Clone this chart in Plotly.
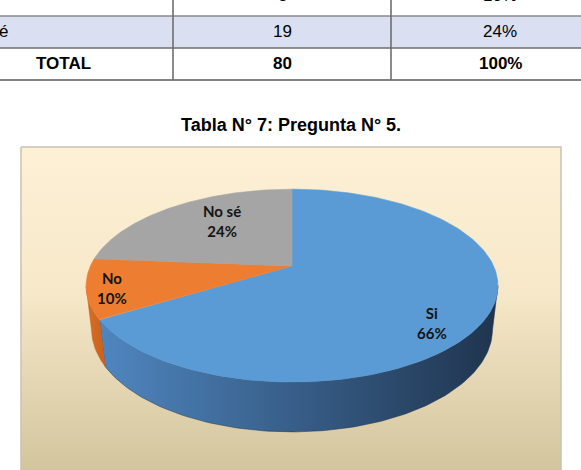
import numpy as np
import plotly.graph_objects as go

# ---------------- data ----------------
categories = ["Si", "No", "No sé"]
counts = [53, 8, 19]
percents = [66, 10, 24]
table_rows = ["No", "No sé", "TOTAL"]
table_counts = [8, 19, sum(counts)]
table_pcts = ["10%", "24%", "100%"]
title_text = "Tabla N° 7: Pregunta N° 5."

# ---------------- style ----------------
W, H = 581, 470
top_colors = ["#5B9BD5", "#ED7D31", "#A5A5A5"]
wall_scales = [
    [[0, "#4F86C0"], [1, "#1F344E"]],
    [[0, "#D96E26"], [1, "#C9621C"]],
    [[0, "#8C8C8C"], [1, "#6E6E6E"]],
]
label_pos = [(432, 323), (112, 288), (222, 221)]

# pie geometry (perspective projection)
CX, CY = 292, 266
F, D = 879.0, 4.36
ALPHA = np.radians(27.3)
HGT = 0.245
SA, CA = np.sin(ALPHA), np.cos(ALPHA)


def proj(theta_deg, r, yh):
    th = np.radians(np.asarray(theta_deg, dtype=float))
    X = r * np.sin(th)
    Z = -r * np.cos(th)
    yc = -Z * SA + yh * CA
    d = D - Z * CA - yh * SA
    return CX + F * X / d, CY - F * yc / d


fig = go.Figure()

# chart box with gradient background
bx0, bx1, by0, by1 = 21, 561, 147, 474
fig.add_trace(go.Scatter(
    x=[bx0, bx1, bx1, bx0, bx0], y=[by0, by0, by1, by1, by0],
    mode="lines", fill="toself", line=dict(color="#C9C2B4", width=1.5),
    fillgradient=dict(type="vertical", start=by0, stop=by1,
                      colorscale=[[0, "#FEF0D5"], [0.45, "#F6E8C8"], [1, "#D2C49C"]]),
    hoverinfo="skip", showlegend=False))

# slice angles
total = sum(counts)
bounds = np.concatenate([[0], np.cumsum(counts)]) / total * 360.0
thR = np.degrees(np.arccos(-CA / D))
thL = 360 - thR

# walls (front side)
for i in range(len(counts)):
    a0, a1 = max(bounds[i], thR), min(bounds[i + 1], thL)
    if a1 <= a0:
        continue
    t = np.linspace(a0, a1, 120)
    xt, yt = proj(t, 1.0, 0.0)
    xb, yb = proj(t[::-1], 1.0, -HGT)
    xs = np.concatenate([xt, xb, xt[:1]])
    ys = np.concatenate([yt, yb, yt[:1]])
    fig.add_trace(go.Scatter(
        x=xs, y=ys, mode="lines", fill="toself",
        line=dict(width=0.5, color=wall_scales[i][1][1]),
        fillgradient=dict(type="horizontal", colorscale=wall_scales[i]),
        hoverinfo="skip", showlegend=False))

# top faces
for i in range(len(counts)):
    t = np.linspace(bounds[i], bounds[i + 1], 200)
    xa, ya = proj(t, 1.0, 0.0)
    xs = np.concatenate([[CX], xa, [CX]])
    ys = np.concatenate([[CY], ya, [CY]])
    fig.add_trace(go.Scatter(
        x=xs, y=ys, mode="lines", fill="toself", fillcolor=top_colors[i],
        line=dict(width=0.6, color=top_colors[i]),
        hoverinfo="skip", showlegend=False))

annotations = []
for i, cat in enumerate(categories):
    lx, ly = label_pos[i]
    annotations.append(dict(
        x=lx, y=ly, xref="x", yref="y", text=f"{cat}<br>{percents[i]}%",
        showarrow=False, align="center", xanchor="center", yanchor="middle",
        font=dict(family="Lato", size=15, color="#141414", weight="bold")))


def px(x):
    return x / W


def py(y):
    return 1 - y / H


# title
annotations.append(dict(x=px(291), y=py(125), xref="paper", yref="paper",
                        xanchor="center", yanchor="middle",
                        text=f"<b>{title_text}</b>", showarrow=False,
                        font=dict(family="Liberation Sans", size=18, color="#000000")))

# table
shapes = []
row_centers = [-4, 32, 64]
col_lines = [173, 391]
col_centers = [63, 282, 500]
shapes.append(dict(type="rect", xref="paper", yref="paper",
                   x0=px(-10), x1=px(W + 10), y0=py(16), y1=py(48),
                   fillcolor="#DAE0F2", line=dict(width=0), layer="below"))
for yl, col in [(16, "#8A8A8A"), (48, "#6E6E6E"), (80, "#5A5A5A")]:
    shapes.append(dict(type="line", xref="paper", yref="paper",
                       x0=px(-10), x1=px(W + 10), y0=py(yl), y1=py(yl),
                       line=dict(color=col, width=1.6)))
for xl in col_lines:
    shapes.append(dict(type="line", xref="paper", yref="paper",
                       x0=px(xl), x1=px(xl), y0=py(-20), y1=py(80),
                       line=dict(color="#6E6E6E", width=1.6)))

for r, lab in enumerate(table_rows):
    yc = row_centers[r]
    bold = lab == "TOTAL"
    fnt = dict(family="Liberation Sans", size=17, color="#000000")
    wrap = (lambda s: f"<b>{s}</b>") if bold else (lambda s: s)
    if bold:
        annotations.append(dict(x=px(col_centers[0]), y=py(yc), xref="paper", yref="paper",
                                xanchor="center", yanchor="middle",
                                text=wrap(lab), showarrow=False, font=fnt))
    else:
        annotations.append(dict(x=px(-38), y=py(yc), xref="paper", yref="paper",
                                xanchor="left", yanchor="middle",
                                text=lab, showarrow=False, font=fnt))
    annotations.append(dict(x=px(col_centers[1]), y=py(yc), xref="paper", yref="paper",
                            xanchor="center", yanchor="middle",
                            text=wrap(str(table_counts[r])), showarrow=False, font=fnt))
    annotations.append(dict(x=px(col_centers[2]), y=py(yc), xref="paper", yref="paper",
                            xanchor="center", yanchor="middle",
                            text=wrap(table_pcts[r]), showarrow=False, font=fnt))

fig.update_layout(
    width=W, height=H, margin=dict(l=0, r=0, t=0, b=0),
    paper_bgcolor="white", plot_bgcolor="rgba(0,0,0,0)",
    xaxis=dict(range=[0, W], visible=False, fixedrange=True),
    yaxis=dict(range=[H, 0], visible=False, fixedrange=True),
    shapes=shapes, annotations=annotations, showlegend=False,
)

fig.write_html("out.html")
